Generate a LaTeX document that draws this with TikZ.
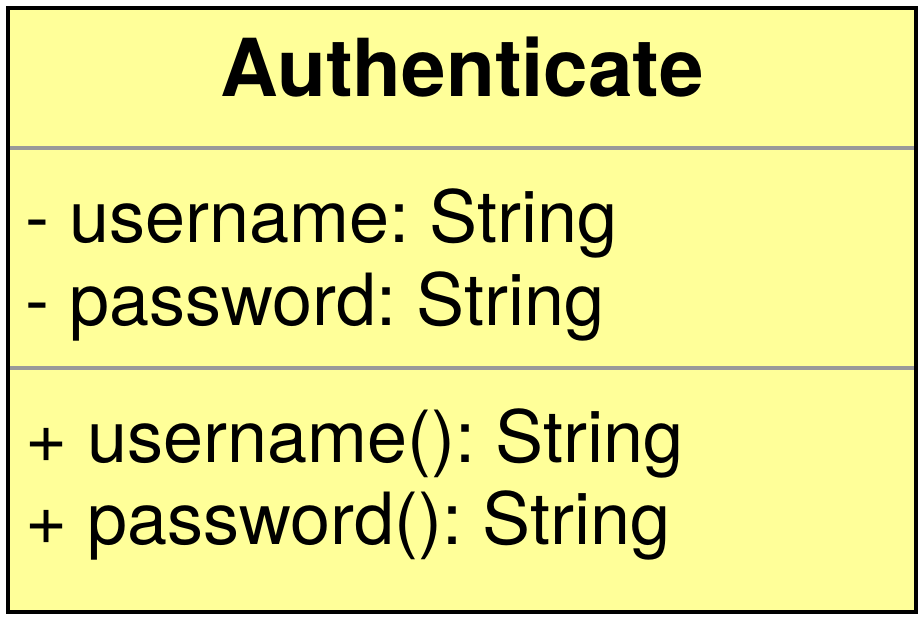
\documentclass[tikz,border=0pt]{standalone}
\usepackage{fontspec}
\setmainfont{TeX Gyre Heros}
\frenchspacing
\definecolor{classfill}{HTML}{FFFF99}
\definecolor{sepgray}{HTML}{999999}
\tikzset{
  member/.style={anchor=base west, inner sep=0pt, font=\fontsize{72}{84}\selectfont},
  classname/.style={anchor=base, inner sep=0pt, font=\fontsize{80}{96}\selectfont\bfseries}
}

\begin{document}
\begin{tikzpicture}[x=1pt, y=1pt]
  \useasboundingbox (0,0) rectangle (924,620);
  \fill[classfill] (8,8) rectangle (916,612);

  \draw[sepgray, line width=4pt] (10,472) -- (914,472);
  \draw[sepgray, line width=4pt] (10,252) -- (914,252);

  \node[classname] (name) at (462,523) {Authenticate};

  \foreach \txt/\y [count=\i] in {{- username: String}/377, {- password: String}/294} {
   \node[member] (attr\i) at (25,\y) {\txt};
  };
  \foreach \txt/\y [count=\i] in {{+ username(): String}/157, {+ password(): String}/75} {
   \node[member] (op\i) at (25,\y) {\txt};
  };

  \draw[line width=4pt] (8,8) rectangle (916,612);
\end{tikzpicture}
\end{document}
